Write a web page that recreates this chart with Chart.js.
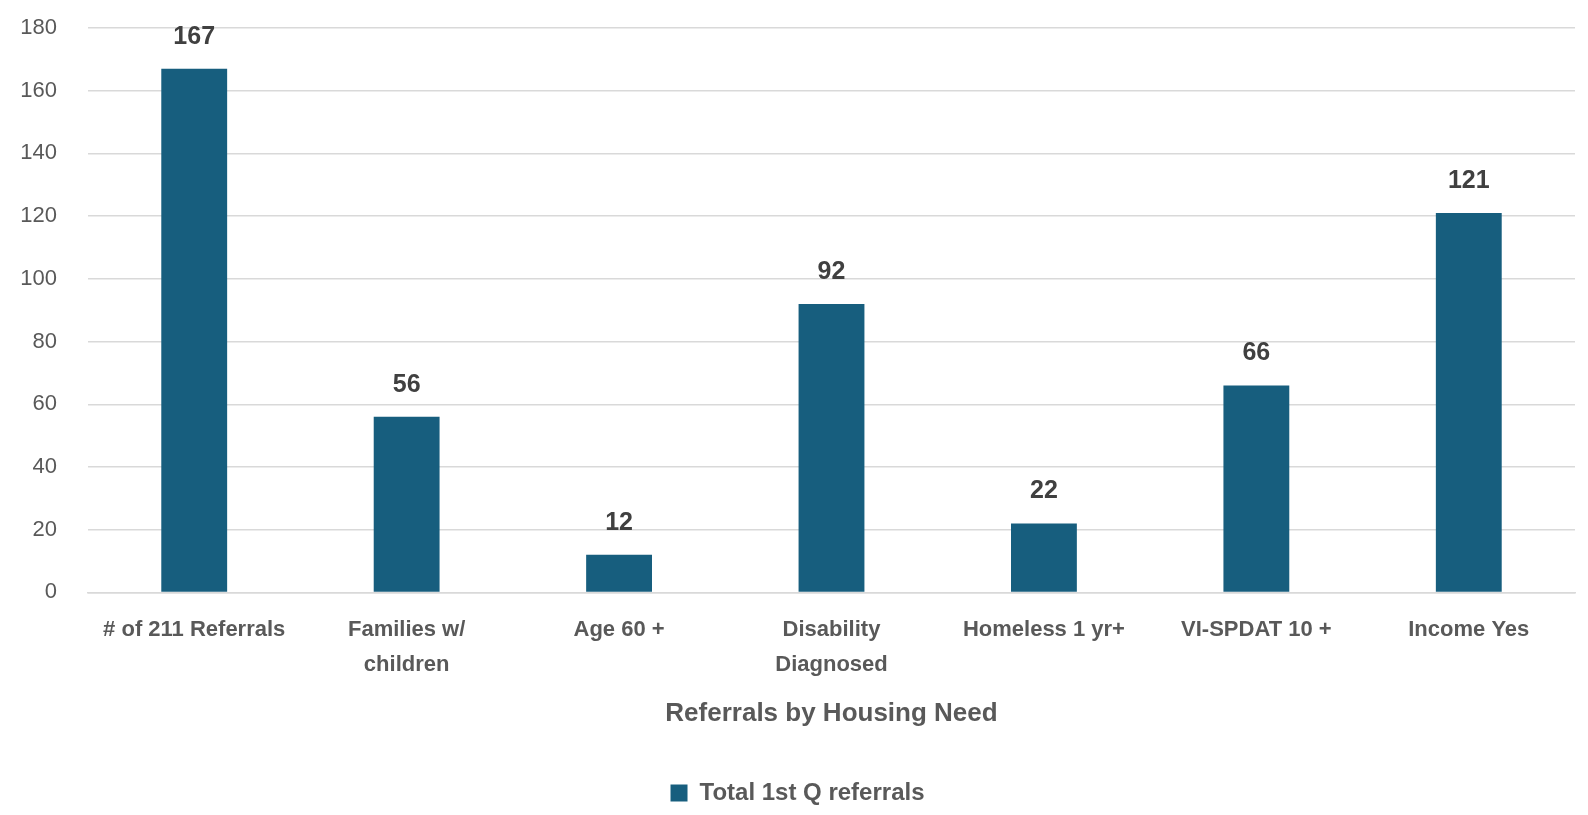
<!DOCTYPE html>
<html>
<head>
<meta charset="utf-8">
<script src="https://cdn.jsdelivr.net/npm/chart.js@4"></script>
<style>
  html, body { margin: 0; background: #fff; overflow: hidden; }
  #wrap { width: 1588px; height: 815px; }
  canvas { display: block; }
</style>
</head>
<body>
<div id="wrap"><canvas id="myChart"></canvas></div>
<script>
const categories = ['# of 211 Referrals', ['Families w/', 'children'], 'Age 60 +', ['Disability', 'Diagnosed'], 'Homeless 1 yr+', 'VI-SPDAT 10 +', 'Income Yes'];
const referrals = [167, 56, 12, 92, 22, 66, 121];
const yTicks = [0, 20, 40, 60, 80, 100, 120, 140, 160, 180];

const FONT = '"Liberation Sans Narrow", "Arial Narrow", "Liberation Sans", sans-serif';

// draws the value above each bar
const valueLabels = {
  id: 'valueLabels',
  afterDatasetsDraw(chart) {
    const ctx = chart.ctx;
    ctx.save();
    ctx.font = 'bold 25px ' + FONT;
    ctx.fillStyle = '#404040';
    ctx.textAlign = 'center';
    ctx.textBaseline = 'middle';
    chart.getDatasetMeta(0).data.forEach((bar, i) => {
      ctx.fillText(referrals[i], bar.x, bar.y - 32);
    });
    ctx.restore();
  }
};

window.addEventListener('load', iniciar, false);

function iniciar() {
  new Chart(document.getElementById('myChart'), {
    type: 'bar',
    data: {
      labels: categories,
      datasets: [{
        label: 'Total 1st Q referrals',
        data: referrals,
        backgroundColor: '#175e7e',
        categoryPercentage: 1,
        barPercentage: 0.31
      }]
    },
    options: {
      responsive: true,
      maintainAspectRatio: false,
      animation: false,
      layout: { padding: { top: 28, right: 13, left: 20, bottom: 0 } },
      plugins: {
        tooltip: { enabled: false },
        legend: {
          position: 'bottom',
          labels: {
            color: '#595959',
            font: { family: FONT, size: 24, weight: 'bold' },
            boxWidth: 17,
            boxHeight: 17,
            padding: 20
          }
        }
      },
      scales: {
        x: {
          grid: { display: false },
          border: { color: '#d9d9d9', width: 1.5 },
          afterFit(scale) {
            scale.paddingLeft = 0;
            scale.paddingRight = 0;
          },
          ticks: {
            color: '#595959',
            font: { family: FONT, size: 22, weight: 'bold', lineHeight: 1.6 },
            maxRotation: 0,
            autoSkip: false,
            padding: 12
          },
          title: {
            display: true,
            text: 'Referrals by Housing Need',
            color: '#595959',
            font: { family: FONT, size: 26, weight: 'bold' },
            padding: { top: 3, bottom: 32 }
          }
        },
        y: {
          min: 0,
          max: 180,
          afterBuildTicks(axis) {
            axis.ticks = yTicks.map(v => ({ value: v }));
          },
          afterFit(scale) {
            scale.width = 68;
            scale.paddingTop = 0;
          },
          grid: { color: '#d9d9d9', lineWidth: 1.5, drawTicks: false },
          border: { display: false },
          ticks: {
            color: '#595959',
            font: { family: FONT, size: 22 },
            padding: 31
          }
        }
      }
    },
    plugins: [valueLabels]
  });
}
</script>
</body>
</html>
